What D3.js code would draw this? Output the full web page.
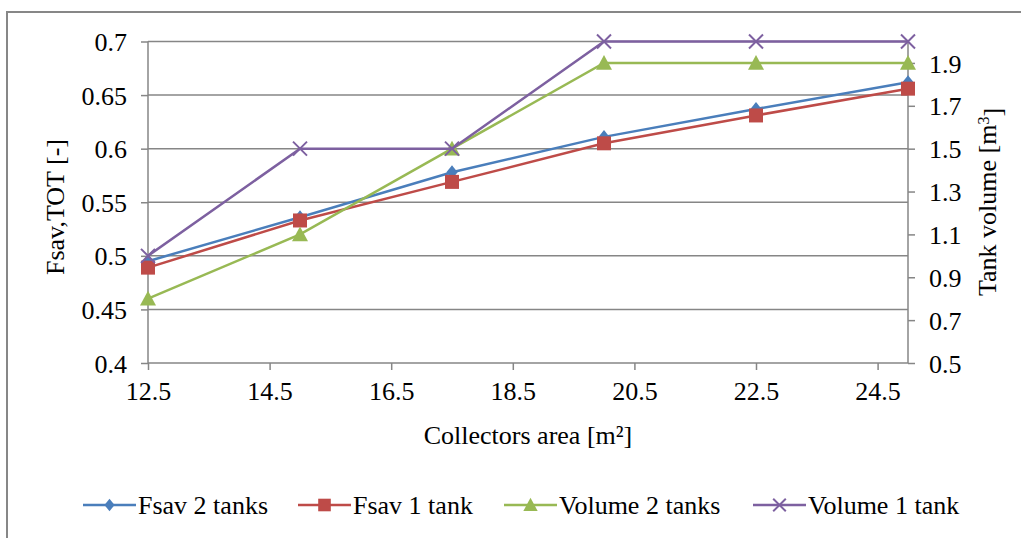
<!DOCTYPE html>
<html>
<head>
<meta charset="utf-8">
<title>Fsav chart</title>
<script src="https://d3js.org/d3.v7.min.js"></script>
<style>
  body { margin: 0; background: #fff; }
  svg text { font-family: "Liberation Serif", "Times New Roman", serif; fill: #000; }
</style>
</head>
<body>
<script>
// data
var areas = [12.5, 15, 17.5, 20, 22.5, 25];
var fsav2 = [0.495, 0.536, 0.578, 0.611, 0.637, 0.662];
var fsav1 = [0.489, 0.533, 0.569, 0.605, 0.631, 0.656];
var vol2 = [0.8, 1.1, 1.5, 1.9, 1.9, 1.9];
var vol1 = [1.0, 1.5, 1.5, 2.0, 2.0, 2.0];
var xTicks = [12.5, 14.5, 16.5, 18.5, 20.5, 22.5, 24.5];
var leftTicks = [0.4, 0.45, 0.5, 0.55, 0.6, 0.65, 0.7];
var rightTicks = [0.5, 0.7, 0.9, 1.1, 1.3, 1.5, 1.7, 1.9];
var seriesNames = ["Fsav 2 tanks", "Fsav 1 tank", "Volume 2 tanks", "Volume 1 tank"];

var W = 1021, H = 538;
var svg = d3.select("body").append("svg").attr("width", W).attr("height", H);

// outer chart frame
svg.append("rect").attr("x", 7).attr("y", 12).attr("width", 1040).attr("height", 560)
  .attr("fill", "none").attr("stroke", "#878787").attr("stroke-width", 2);

var plot = {left: 148, right: 908, top: 41.5, bottom: 363};
var x = d3.scaleLinear().domain([12.5, 25]).range([plot.left, plot.right]);
var yL = d3.scaleLinear().domain([0.4, 0.7]).range([plot.bottom, plot.top]);
var yR = d3.scaleLinear().domain([0.5, 2.0]).range([plot.bottom, plot.top]);

var grey = "#868686";
var fs = "26px";
var ff = "Liberation Serif, Times New Roman, serif";

// gridlines + left axis
var gAxL = svg.append("g").attr("transform", "translate(" + plot.left + ",0)")
  .call(d3.axisLeft(yL).tickValues(leftTicks).tickSize(7).tickPadding(14)
    .tickFormat(function(d){ return String(+d.toFixed(2)); }));
gAxL.attr("font-family", ff);
gAxL.select(".domain").remove();
gAxL.selectAll("line").attr("stroke", grey).attr("stroke-width", 1.5);
gAxL.selectAll("text").style("font-size", fs).attr("dy", "0.35em");

svg.append("g").selectAll("line").data(leftTicks).enter().append("line")
  .attr("x1", plot.left).attr("x2", plot.right)
  .attr("y1", function(d){ return yL(d); }).attr("y2", function(d){ return yL(d); })
  .attr("stroke", grey).attr("stroke-width", 1.5);

svg.append("line").attr("x1", plot.left).attr("x2", plot.left)
  .attr("y1", plot.top).attr("y2", plot.bottom).attr("stroke", grey).attr("stroke-width", 1.5);

// bottom axis
var gAxB = svg.append("g").attr("transform", "translate(0," + plot.bottom + ")")
  .call(d3.axisBottom(x).tickValues(xTicks).tickSize(7).tickPadding(12).tickFormat(d3.format(".1f")));
gAxB.attr("font-family", ff);
gAxB.select(".domain").remove();
gAxB.selectAll("line").attr("stroke", grey).attr("stroke-width", 1.5);
gAxB.selectAll("text").style("font-size", fs).attr("dy", "0.71em");

// right axis
var gAxR = svg.append("g").attr("transform", "translate(" + plot.right + ",0)")
  .call(d3.axisRight(yR).tickValues(rightTicks).tickSize(7).tickPadding(14).tickFormat(d3.format(".1f")));
gAxR.attr("font-family", ff);
gAxR.select(".domain").remove();
gAxR.selectAll("line").attr("stroke", grey).attr("stroke-width", 1.5);
gAxR.selectAll("text").style("font-size", fs).attr("dy", "0.35em");
svg.append("line").attr("x1", plot.right).attr("x2", plot.right)
  .attr("y1", plot.top).attr("y2", plot.bottom).attr("stroke", grey).attr("stroke-width", 1.5);

// axis titles
svg.append("text").attr("transform", "translate(64,207) rotate(-90)")
  .attr("text-anchor", "middle").style("font-size", fs).text("Fsav,TOT [-]");
var rt = svg.append("text").attr("transform", "translate(996,202) rotate(-90)")
  .attr("text-anchor", "middle").style("font-size", fs);
rt.append("tspan").text("Tank volume [m");
rt.append("tspan").attr("dy", "-0.45em").style("font-size", "16px").text("3");
rt.append("tspan").attr("dy", "0.45em").text("]");
svg.append("text").attr("x", 528).attr("y", 444).attr("text-anchor", "middle")
  .style("font-size", fs).text("Collectors area [m²]");

// series
var series = [
  {name: seriesNames[0], vals: fsav2, y: yL, color: "#4a7ebb", sym: "diamond"},
  {name: seriesNames[1], vals: fsav1, y: yL, color: "#be4b48", sym: "square"},
  {name: seriesNames[2], vals: vol2, y: yR, color: "#98b954", sym: "triangle"},
  {name: seriesNames[3], vals: vol1, y: yR, color: "#7d60a0", sym: "cross"}
];

function marker(g, s, cx, cy, big) {
  var k = big ? 1 : 0.9;
  if (s.sym === "diamond") {
    var r = 7 * k;
    g.append("path").attr("d", "M" + cx + "," + (cy - r) + "L" + (cx + r * 0.8) + "," + cy +
      "L" + cx + "," + (cy + r) + "L" + (cx - r * 0.8) + "," + cy + "Z").attr("fill", s.color);
  } else if (s.sym === "square") {
    var h = 7 * k;
    g.append("rect").attr("x", cx - h).attr("y", cy - h).attr("width", 2 * h).attr("height", 2 * h)
      .attr("fill", s.color);
  } else if (s.sym === "triangle") {
    var t = 8 * k;
    g.append("path").attr("d", "M" + cx + "," + (cy - t) + "L" + (cx + t) + "," + (cy + t * 0.85) +
      "L" + (cx - t) + "," + (cy + t * 0.85) + "Z").attr("fill", s.color);
  } else {
    var c = 7 * k;
    g.append("path").attr("d", "M" + (cx - c) + "," + (cy - c) + "L" + (cx + c) + "," + (cy + c) +
      "M" + (cx - c) + "," + (cy + c) + "L" + (cx + c) + "," + (cy - c))
      .attr("stroke", s.color).attr("stroke-width", 2).attr("fill", "none");
  }
}

series.forEach(function(s) {
  var line = d3.line().x(function(d, i){ return x(areas[i]); }).y(function(d){ return s.y(d); });
  svg.append("path").datum(s.vals).attr("d", line).attr("fill", "none")
    .attr("stroke", s.color).attr("stroke-width", 2.5);
  var g = svg.append("g");
  s.vals.forEach(function(v, i){ marker(g, s, x(areas[i]), s.y(v), true); });
});

// legend
var legX = [83, 298, 504, 753];
var legY = 505;
series.forEach(function(s, i) {
  var g = svg.append("g");
  g.append("line").attr("x1", legX[i]).attr("x2", legX[i] + 53).attr("y1", legY).attr("y2", legY)
    .attr("stroke", s.color).attr("stroke-width", 2.5);
  marker(g, s, legX[i] + 26.5, legY, false);
  g.append("text").attr("x", legX[i] + 55).attr("y", legY).attr("dy", "0.33em")
    .style("font-size", fs).text(s.name);
});
</script>
</body>
</html>
